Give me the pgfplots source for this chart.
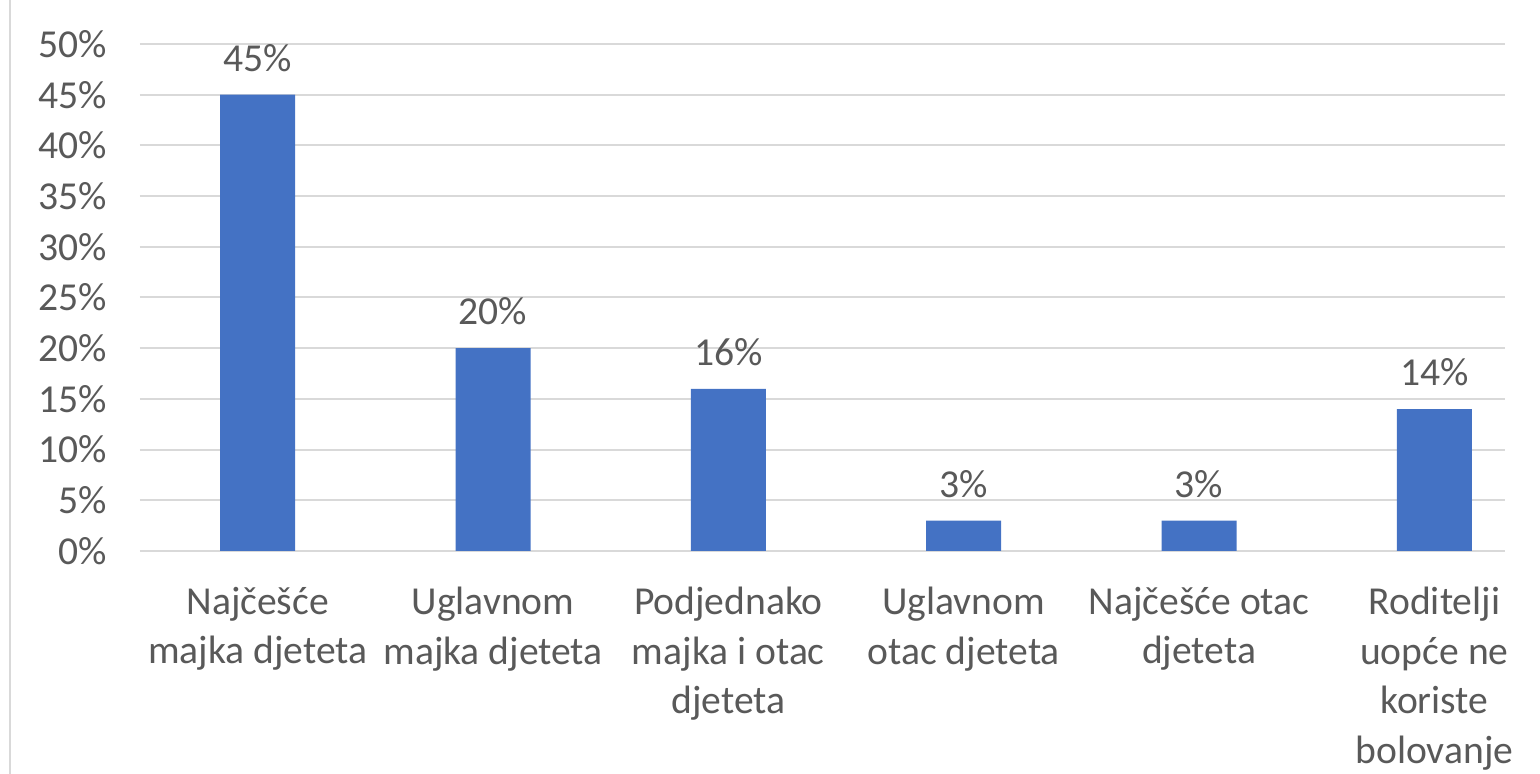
\documentclass[border=0pt]{standalone}
\usepackage{pgfplots}
\pgfplotsset{compat=1.18}
\usepackage{fontspec}
\setmainfont{Carlito}
\definecolor{barblue}{HTML}{4472C4}
\definecolor{txtgray}{HTML}{595959}
\definecolor{gridgray}{HTML}{D9D9D9}
\begin{document}
\begin{tikzpicture}
\begin{axis}[
    at={(70pt,111.5pt)}, anchor=south west,
    scale only axis,
    width=682.5pt, height=253.5pt,
    ybar, bar width=37.5pt,
    xmin=-0.5, xmax=5.3,
    ymin=0, ymax=50,
    xtick={0,1,2,3,4,5},
    xticklabels={
        {Najčešće\\majka djeteta},
        {Uglavnom\\majka djeteta},
        {Podjednako\\majka i otac\\djeteta},
        {Uglavnom\\otac djeteta},
        {Najčešće otac\\djeteta},
        {Roditelji\\uopće ne\\koriste\\bolovanje}},
    ytick={0,5,...,50},
    yticklabel={\pgfmathprintnumber{\tick}\%},
    /pgf/number format/assume math mode=true,
    axis line style={draw=none},
    major tick length=0pt,
    ymajorgrids,
    grid style={gridgray, line width=1pt},
    ticklabel style={font=\fontsize{19.8}{24.8}\selectfont, text=txtgray},
    xticklabel style={align=center, anchor=north, yshift=-14.5pt},
    yticklabel style={anchor=east, xshift=-13pt},
    nodes near coords={\pgfmathprintnumber{\pgfplotspointmeta}\%},
    nodes near coords style={font=\fontsize{19.8}{25}\selectfont, text=txtgray, anchor=south, yshift=8pt},
]
\addplot[fill=barblue, draw=none] coordinates {(0,45) (1,20) (2,16) (3,3) (4,3) (5,14)};
\end{axis}
\pgfresetboundingbox
\useasboundingbox (0,0) rectangle (770pt,387pt);
\draw[gridgray, line width=1.2pt] (5pt,0) -- (5pt,387pt);
\end{tikzpicture}
\end{document}
